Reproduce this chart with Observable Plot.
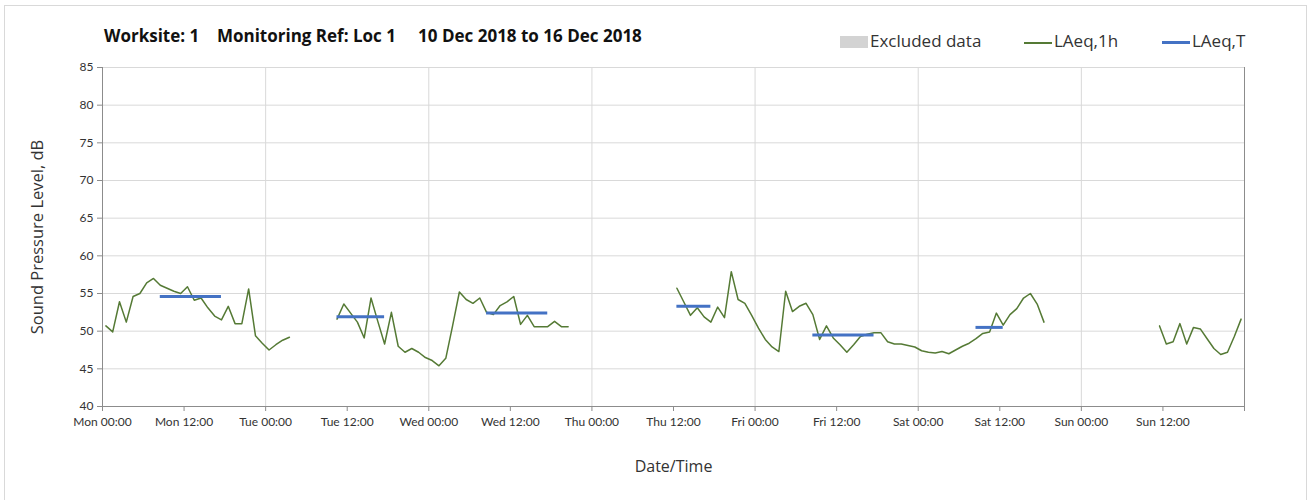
<!DOCTYPE html>
<html>
<head>
<meta charset="utf-8">
<script src="https://cdn.jsdelivr.net/npm/d3@7"></script>
<script src="https://cdn.jsdelivr.net/npm/@observablehq/plot@0.6"></script>
<style>
  html, body { margin: 0; padding: 0; background: #fff; }
  #wrap { position: relative; width: 1309px; height: 500px; overflow: hidden; font-family: Lato, "Open Sans", sans-serif; }
  #frame { position: absolute; left: 4px; top: 5px; width: 1303px; height: 520px; border: 1px solid #d9d9d9; box-sizing: border-box; }
  #head { position: relative; height: 55px; }
  #title { position: absolute; left: 104px; top: 27px; font-family: "Open Sans", sans-serif; font-size: 17px; font-weight: bold; color: #111; white-space: pre; line-height: 1; }
  .lg { position: absolute; top: 32px; font-family: "Open Sans", sans-serif; font-size: 17px; color: #333; line-height: 1; white-space: pre; }
  .sw { position: absolute; }
  #chart { position: absolute; left: 0; top: 55px; }
</style>
</head>
<body>
<div id="wrap">
  <div id="frame"></div>
  <div id="head">
    <div id="title"></div>
    <div id="legend"></div>
  </div>
  <div id="chart"></div>
</div>
<script>
// ---- data ----
const titleText = "Worksite: 1    Monitoring Ref: Loc 1     10 Dec 2018 to 16 Dec 2018";
const dayNames = ["Mon", "Tue", "Wed", "Thu", "Fri", "Sat", "Sun"];
const xTickHours = [0, 12, 24, 36, 48, 60, 72, 84, 96, 108, 120, 132, 144, 156, 168];
const dayGridHours = [24, 48, 72, 96, 120, 144];
const yTicks = [40, 45, 50, 55, 60, 65, 70, 75, 80, 85];

// LAeq,1h : runs of hourly values, first hour of each run counted from Mon 00:00
const runStartHours = [0, 34, 84, 155];
const runMon = [50.7, 49.9, 53.9, 51.2, 54.6, 55.0, 56.4, 57.0, 56.1, 55.7, 55.3, 55.0, 55.9, 54.1,
  54.4, 53.1, 52.0, 51.5, 53.3, 51.0, 51.0, 55.6, 49.4, 48.4, 47.5, 48.2, 48.8, 49.2];
const runTue = [51.6, 53.6, 52.4, 51.2, 49.1, 54.4, 51.3, 48.3, 52.5, 48.0, 47.2, 47.7, 47.2, 46.5,
  46.1, 45.4, 46.4, 50.7, 55.2, 54.2, 53.7, 54.4, 52.5, 52.2, 53.4, 53.9, 54.6, 50.9, 52.1, 50.6,
  50.6, 50.6, 51.3, 50.6, 50.6];
const runThu = [55.7, 53.9, 52.1, 53.1, 51.9, 51.2, 53.2, 51.8, 57.9, 54.2, 53.7, 52.1, 50.4, 48.9,
  47.9, 47.3, 55.3, 52.6, 53.3, 53.7, 52.2, 48.9, 50.7, 49.1, 48.2, 47.2, 48.2, 49.3, 49.6, 49.8,
  49.8, 48.6, 48.3, 48.3, 48.1, 47.9, 47.4, 47.2, 47.1, 47.3, 47.0, 47.5, 48.0, 48.4, 49.0, 49.7,
  49.9, 52.4, 50.8, 52.2, 53.0, 54.4, 55.0, 53.6, 51.2];
const runSun = [50.7, 48.3, 48.6, 51.0, 48.3, 50.5, 50.3, 49.0, 47.7, 46.9, 47.2, 49.3, 51.6];
const runs = [runMon, runTue, runThu, runSun];

// LAeq,T : measurement periods (start hour, end hour) and levels
const periodStart = [8, 34, 56, 84, 104, 128];
const periodEnd = [18, 42, 66, 90, 114, 133];
const periodLevel = [54.6, 51.9, 52.4, 53.3, 49.5, 50.5];

// ---- build tables ----
const hourly = [];
runs.forEach((vals, r) => vals.forEach((v, i) => hourly.push({run: r, hour: runStartHours[r] + i + 0.5, laeq: v})));
const periods = periodStart.map((s, i) => ({x1: s + 0.5, x2: periodEnd[i] - 0.5, y: periodLevel[i]}));

const fmt = h => h >= 168 ? "" : `${dayNames[Math.floor(h / 24)]} ${String(h % 24).padStart(2, "0")}:00`;

const green = "#557a35";
const blue = "#4472c4";
const axisGray = "#8c8c8c";
const gridGray = "#d9d9d9";

// ---- header ----
document.getElementById("title").textContent = titleText;
const legend = document.getElementById("legend");
legend.innerHTML = `
  <div class="sw" style="left:840px;top:36px;width:28px;height:12px;background:#d3d3d3"></div>
  <div class="lg" style="left:870px">Excluded data</div>
  <div class="sw" style="left:1024px;top:42px;width:28px;height:1.5px;background:${green}"></div>
  <div class="lg" style="left:1054px">LAeq,1h</div>
  <div class="sw" style="left:1162px;top:41px;width:28px;height:3px;background:${blue}"></div>
  <div class="lg" style="left:1192px">LAeq,T</div>`;

// ---- chart ----
const chart = Plot.plot({
  width: 1309,
  height: 445,
  marginTop: 12,
  marginBottom: 94,
  marginLeft: 102,
  marginRight: 65,
  style: {fontFamily: "Lato, 'Open Sans', sans-serif", fontSize: "12px", color: "#333", background: "transparent"},
  x: {type: "linear", domain: [0, 168]},
  y: {domain: [40, 85]},
  marks: [
    Plot.gridY(yTicks, {stroke: gridGray, strokeOpacity: 1}),
    Plot.gridX(dayGridHours, {stroke: gridGray, strokeOpacity: 1}),
    Plot.ruleX([0, 168], {stroke: axisGray}),
    Plot.ruleY([40], {stroke: axisGray}),
    Plot.axisX(xTickHours, {tickFormat: fmt, tickSize: 5, tickPadding: 6, stroke: axisGray, fill: "#333", label: null}),
    Plot.axisY(yTicks, {tickSize: 5, tickPadding: 4, stroke: axisGray, fill: "#333", label: null}),
    Plot.text(["Date/Time"], {frameAnchor: "bottom", dy: 60, lineAnchor: "middle", fontFamily: "'Open Sans', sans-serif", fontSize: 16, fill: "#333"}),
    Plot.text(["Sound Pressure Level, dB"], {frameAnchor: "left", dx: -65, rotate: -90, textAnchor: "middle", lineAnchor: "middle", fontFamily: "'Open Sans', sans-serif", fontSize: 16.5, fill: "#333"}),
    Plot.line(hourly, {x: "hour", y: "laeq", z: "run", stroke: green, strokeWidth: 1.5}),
    Plot.ruleY(periods, {x1: "x1", x2: "x2", y: "y", stroke: blue, strokeWidth: 3})
  ]
});
document.getElementById("chart").appendChild(chart);
</script>
</body>
</html>
